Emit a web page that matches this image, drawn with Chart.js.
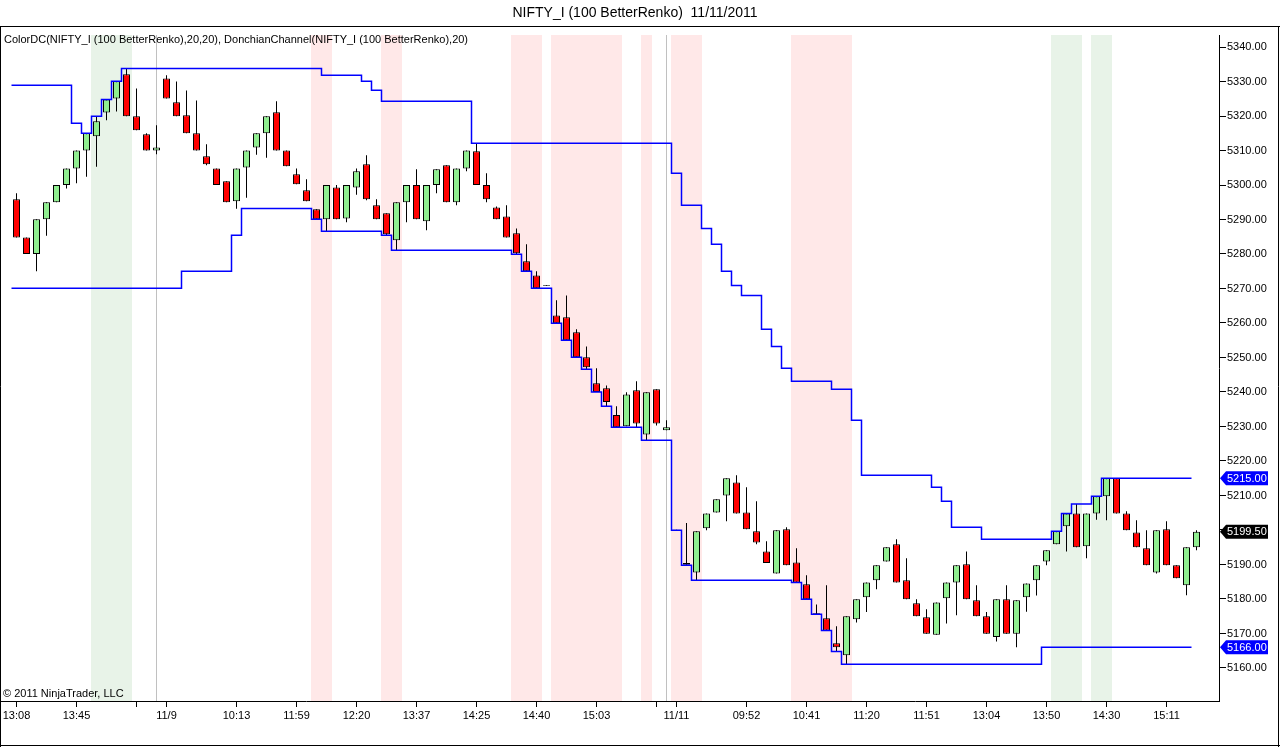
<!DOCTYPE html>
<html>
<head>
<meta charset="utf-8">
<title>NIFTY_I (100 BetterRenko) 11/11/2011</title>
<script src="https://cdn.jsdelivr.net/npm/chart.js@4.4.0/dist/chart.umd.min.js"></script>
<style>
  html, body { margin: 0; padding: 0; background: #fff; }
  canvas { display: block; }
</style>
</head>
<body>
<canvas id="renkoChart" width="1280" height="747"></canvas>
<script>
// renko bars, one per slot
const opens = [
  5295.9, 5284.8, 5280.0, 5290.1, 5295.0, 5300.0, 5304.8, 5310.0, 5314.1, 5321.0,
  5325.1, 5332.1, 5319.9, 5314.7, 5310.0, 5330.9, 5324.0, 5320.2, 5315.0, 5308.3,
  5304.8, 5301.1, 5295.3, 5305.1, 5310.9, 5315.0, 5321.1, 5310.0, 5303.1, 5298.5,
  5293.0, 5290.1, 5299.3, 5290.3, 5299.3, 5306.0, 5294.1, 5291.8, 5284.0, 5295.0,
  5300.0, 5289.5, 5300.0, 5305.7, 5295.0, 5304.8, 5309.8, 5300.0, 5293.5, 5290.9,
  5286.0, 5277.9, 5273.8, 5270.8, 5262.2, 5261.7, 5257.3, 5250.1, 5242.5, 5241.1,
  5233.3, 5230.1, 5240.5, 5227.7, 5240.8, 5228.9, 5199.9, 5190.4, 5187.7, 5200.5,
  5205.1, 5210.0, 5213.8, 5205.1, 5199.6, 5193.8, 5187.4, 5200.2, 5190.6, 5184.3,
  5175.9, 5174.4, 5167.2, 5163.7, 5174.1, 5180.5, 5185.4, 5190.9, 5195.9, 5185.4,
  5178.8, 5174.7, 5169.6, 5180.2, 5184.8, 5190.1, 5179.6, 5175.0, 5169.0, 5179.9,
  5169.9, 5180.5, 5185.4, 5190.9, 5195.9, 5201.1, 5204.8, 5195.3, 5204.8, 5209.8,
  5215.0, 5204.8, 5199.3, 5194.7, 5187.7, 5200.2, 5189.8, 5184.0, 5195.0
];
const highs = [
  5297.6, 5284.8, 5290.1, 5295.0, 5300.0, 5304.8, 5310.0, 5315.0, 5319.8, 5324.8,
  5330.1, 5333.7, 5328.0, 5315.0, 5317.3, 5331.8, 5330.0, 5327.4, 5324.5, 5311.8,
  5304.8, 5301.1, 5304.8, 5310.0, 5315.0, 5319.9, 5324.3, 5310.0, 5304.8, 5301.7,
  5293.0, 5300.0, 5300.0, 5300.0, 5304.8, 5308.6, 5295.9, 5291.8, 5295.0, 5300.0,
  5304.6, 5300.0, 5304.6, 5305.7, 5304.8, 5310.0, 5312.1, 5303.4, 5293.8, 5294.1,
  5287.4, 5282.8, 5275.0, 5271.0, 5266.6, 5268.0, 5258.2, 5253.2, 5246.9, 5241.9,
  5235.9, 5239.9, 5243.1, 5239.9, 5240.8, 5231.8, 5200.1, 5202.0, 5199.6, 5204.8,
  5208.9, 5215.0, 5215.9, 5212.4, 5208.3, 5196.7, 5199.9, 5200.8, 5194.7, 5186.9,
  5178.4, 5184.0, 5172.1, 5175.0, 5179.9, 5184.8, 5189.8, 5195.0, 5197.3, 5191.8,
  5179.9, 5177.0, 5179.0, 5184.8, 5189.8, 5193.8, 5184.0, 5176.2, 5179.9, 5184.0,
  5179.6, 5184.5, 5189.8, 5194.1, 5199.6, 5204.8, 5207.5, 5204.8, 5209.8, 5215.0,
  5215.0, 5205.4, 5202.8, 5199.9, 5199.9, 5202.5, 5189.8, 5195.0, 5199.9
];
const lows = [
  5284.8, 5280.0, 5275.0, 5285.3, 5295.0, 5299.0, 5300.5, 5302.4, 5305.3, 5318.8,
  5321.3, 5319.9, 5315.9, 5310.0, 5308.9, 5325.1, 5319.9, 5315.0, 5310.0, 5305.7,
  5300.0, 5295.0, 5293.1, 5296.3, 5308.8, 5307.9, 5310.0, 5305.4, 5300.2, 5295.3,
  5290.1, 5286.6, 5290.1, 5289.2, 5297.2, 5295.6, 5290.1, 5285.4, 5281.1, 5289.2,
  5290.1, 5286.9, 5297.6, 5295.0, 5294.1, 5304.0, 5300.0, 5295.0, 5290.1, 5284.8,
  5279.9, 5275.0, 5270.1, 5270.8, 5259.9, 5255.0, 5250.1, 5246.6, 5240.0, 5235.9,
  5229.8, 5230.1, 5229.8, 5226.0, 5230.3, 5228.9, 5199.9, 5189.9, 5185.4, 5199.9,
  5205.1, 5202.5, 5204.8, 5200.2, 5195.9, 5190.4, 5187.4, 5189.8, 5184.8, 5179.9,
  5175.6, 5170.9, 5164.8, 5161.1, 5173.2, 5176.2, 5182.8, 5190.9, 5184.8, 5179.9,
  5175.0, 5169.9, 5169.6, 5172.9, 5175.3, 5179.9, 5175.0, 5169.9, 5167.7, 5169.9,
  5166.0, 5176.3, 5181.0, 5189.8, 5195.9, 5193.8, 5195.0, 5191.8, 5203.0, 5202.8,
  5204.8, 5199.9, 5195.0, 5189.8, 5187.4, 5189.8, 5186.0, 5181.1, 5194.1
];
const closes = [
  5284.8, 5280.0, 5290.1, 5295.0, 5300.0, 5304.8, 5310.0, 5315.0, 5318.5, 5324.8,
  5330.1, 5319.9, 5315.9, 5310.0, 5310.9, 5325.1, 5319.9, 5315.0, 5310.0, 5306.0,
  5300.0, 5295.0, 5304.8, 5310.0, 5315.0, 5319.9, 5310.0, 5305.4, 5300.2, 5295.3,
  5290.1, 5300.0, 5290.1, 5300.0, 5304.0, 5295.9, 5290.1, 5285.7, 5295.0, 5300.0,
  5290.1, 5300.0, 5304.6, 5295.0, 5304.8, 5310.0, 5300.0, 5295.9, 5290.1, 5284.8,
  5280.2, 5275.0, 5270.1, 5271.0, 5259.9, 5255.0, 5250.1, 5247.2, 5240.0, 5237.1,
  5229.8, 5239.3, 5230.9, 5239.9, 5230.9, 5229.8, 5200.1, 5189.9, 5199.6, 5204.8,
  5208.9, 5215.0, 5204.8, 5200.2, 5196.4, 5190.4, 5199.9, 5189.8, 5184.8, 5179.9,
  5175.6, 5170.9, 5166.0, 5175.0, 5179.9, 5184.8, 5189.8, 5195.0, 5184.8, 5179.9,
  5175.0, 5169.9, 5179.0, 5184.8, 5189.8, 5179.9, 5175.0, 5169.9, 5179.9, 5169.9,
  5179.6, 5184.5, 5189.8, 5194.1, 5199.6, 5204.8, 5195.0, 5204.8, 5209.8, 5215.0,
  5204.8, 5199.9, 5195.0, 5189.8, 5199.9, 5189.8, 5186.0, 5195.0, 5199.5
];

// DonchianChannel(20) (last bar not plotted)
const upperDC = [
  5328.9, 5328.9, 5328.9, 5328.9, 5328.9, 5328.9, 5317.9, 5315.0, 5319.9, 5324.8,
  5330.1, 5333.8, 5333.8, 5333.8, 5333.8, 5333.8, 5333.8, 5333.8, 5333.8, 5333.8,
  5333.8, 5333.8, 5333.8, 5333.8, 5333.8, 5333.8, 5333.8, 5333.8, 5333.8, 5333.8,
  5333.8, 5331.8, 5331.8, 5331.8, 5331.8, 5330.1, 5327.5, 5324.3, 5324.3, 5324.3,
  5324.3, 5324.3, 5324.3, 5324.3, 5324.3, 5324.3, 5312.1, 5312.1, 5312.1, 5312.1,
  5312.1, 5312.1, 5312.1, 5312.1, 5312.1, 5312.1, 5312.1, 5312.1, 5312.1, 5312.1,
  5312.1, 5312.1, 5312.1, 5312.1, 5312.1, 5312.1, 5303.4, 5294.1, 5294.1, 5287.4,
  5282.8, 5275.0, 5270.9, 5268.0, 5268.0, 5258.2, 5253.2, 5246.9, 5243.1, 5243.1,
  5243.1, 5243.1, 5240.8, 5240.8, 5231.8, 5215.9, 5215.9, 5215.9, 5215.9, 5215.9,
  5215.9, 5215.9, 5212.4, 5208.3, 5200.8, 5200.8, 5200.8, 5197.3, 5197.3, 5197.3,
  5197.3, 5197.3, 5197.3, 5197.3, 5199.6, 5204.8, 5207.5, 5207.5, 5209.8, 5215.0,
  5215.0, 5215.0, 5215.0, 5215.0, 5215.0, 5215.0, 5215.0, 5215.0
];
const lowerDC = [
  5270.1, 5270.1, 5270.1, 5270.1, 5270.1, 5270.1, 5270.1, 5270.1, 5270.1, 5270.1,
  5270.1, 5270.1, 5270.1, 5270.1, 5270.1, 5270.1, 5270.1, 5275.0, 5275.0, 5275.0,
  5275.0, 5275.0, 5285.4, 5293.2, 5293.2, 5293.2, 5293.2, 5293.2, 5293.2, 5293.2,
  5290.1, 5286.6, 5286.6, 5286.6, 5286.6, 5286.6, 5286.6, 5285.4, 5281.1, 5281.1,
  5281.1, 5281.1, 5281.1, 5281.1, 5281.1, 5281.1, 5281.1, 5281.1, 5281.1, 5281.1,
  5279.9, 5275.0, 5270.1, 5270.1, 5259.9, 5255.0, 5250.1, 5246.6, 5240.0, 5235.9,
  5229.8, 5229.8, 5229.8, 5226.0, 5226.0, 5226.0, 5199.9, 5189.8, 5185.4, 5185.4,
  5185.4, 5185.4, 5185.4, 5185.4, 5185.4, 5185.4, 5185.4, 5185.4, 5184.8, 5179.9,
  5175.6, 5170.9, 5164.8, 5161.1, 5161.1, 5161.1, 5161.1, 5161.1, 5161.1, 5161.1,
  5161.1, 5161.1, 5161.1, 5161.1, 5161.1, 5161.1, 5161.1, 5161.1, 5161.1, 5161.1,
  5161.1, 5161.1, 5161.1, 5166.0, 5166.0, 5166.0, 5166.0, 5166.0, 5166.0, 5166.0,
  5166.0, 5166.0, 5166.0, 5166.0, 5166.0, 5166.0, 5166.0, 5166.0
];

// ColorDC background zones (bar slots)
const redZones = [30, 31, 37, 38, 50, 51, 52, 54, 55, 56, 57, 58, 59, 60, 63, 66, 67, 68, 78, 79, 80, 81, 82, 83];
const greenZones = [8, 9, 10, 11, 104, 105, 106, 108, 109];
const dayBreaks = [14, 65];

const xTickIdx = [0, 6, 12, 15, 22, 28, 34, 40, 46, 52, 58, 64, 66, 73, 79, 85, 91, 97, 103, 109, 115];
const xTickLabels = ['13:08', '13:45', '', '11/9', '10:13', '11:59', '12:20', '13:37', '14:25', '14:40', '15:03',
  '', '11/11', '09:52', '10:41', '11:20', '11:51', '13:04', '13:50', '14:30', '15:11'];
const yTicks = [5160, 5170, 5180, 5190, 5200, 5210, 5220, 5230, 5240, 5250,
  5260, 5270, 5280, 5290, 5300, 5310, 5320, 5330, 5340];

const Y_MIN = 5150.43;
const Y_MAX = 5343.48;
const FONT = 'Arial, "Liberation Sans", sans-serif';

const zoneData = redZones.map(i => ({x: i, y: [Y_MIN, Y_MAX]}))
  .concat(greenZones.map(i => ({x: i, y: [Y_MIN, Y_MAX]})));
const zoneColors = redZones.map(() => '#ffe8e8').concat(greenZones.map(() => '#e8f3e8'));

const bars = opens.map((o, i) => i);
const wickData = bars.map(i => ({x: i, y: [lows[i], highs[i]]}));
const bodyData = bars.map(i => ({x: i, y: [opens[i], closes[i]]}));
const bodyColors = bars.map(i => closes[i] >= opens[i] ? '#90ee90' : '#ff0000');

// each channel value covers its own bar slot
const stepPoints = arr => arr.map((v, i) => ({x: i - 0.5, y: v}))
  .concat([{x: arr.length - 0.5, y: arr[arr.length - 1]}]);

function drawTag(ctx, y, color, text) {
  const x = 1220;
  ctx.beginPath();
  ctx.moveTo(x, y);
  ctx.lineTo(x + 6, y - 7);
  ctx.lineTo(1268, y - 7);
  ctx.lineTo(1268, y + 7);
  ctx.lineTo(x + 6, y + 7);
  ctx.closePath();
  ctx.fillStyle = color;
  ctx.fill();
  ctx.fillStyle = '#fff';
  ctx.font = '11px ' + FONT;
  ctx.textAlign = 'left';
  ctx.textBaseline = 'middle';
  ctx.fillText(text, x + 7, y + 0.5);
}

const ninjaFrame = {
  id: 'ninjaFrame',
  beforeDraw(chart) {
    const ctx = chart.ctx;
    ctx.save();
    ctx.fillStyle = '#fff';
    ctx.fillRect(0, 0, chart.width, chart.height);
    ctx.restore();
  },
  afterDatasetDraw(chart, args) {
    if (args.index !== 0) return; // right after the zone bands
    const {ctx, chartArea, scales} = chart;
    ctx.save();
    ctx.strokeStyle = '#c0c0c0';
    ctx.lineWidth = 1;
    dayBreaks.forEach(i => {
      const x = scales.x.getPixelForValue(i);
      ctx.beginPath();
      ctx.moveTo(x, chartArea.top);
      ctx.lineTo(x, chartArea.bottom);
      ctx.stroke();
    });
    ctx.restore();
  },
  afterDraw(chart) {
    const {ctx, chartArea, scales} = chart;
    ctx.save();
    // frame
    ctx.strokeStyle = '#000';
    ctx.lineWidth = 1;
    ctx.beginPath();
    ctx.moveTo(0, 26.5); ctx.lineTo(1280, 26.5);
    ctx.moveTo(0.5, 26.5); ctx.lineTo(0.5, 747);
    ctx.moveTo(0, 745.5); ctx.lineTo(1280, 745.5);
    ctx.moveTo(1278.5, 26.5); ctx.lineTo(1278.5, 747);
    ctx.moveTo(0, chartArea.bottom + 0.5); ctx.lineTo(chartArea.left, chartArea.bottom + 0.5);
    ctx.stroke();

    // title
    ctx.fillStyle = '#000';
    ctx.font = '14px ' + FONT;
    ctx.textAlign = 'center';
    ctx.textBaseline = 'middle';
    ctx.fillText('NIFTY_I (100 BetterRenko)  11/11/2011', 635, 13.5);

    // indicator legend and copyright
    ctx.font = '11px ' + FONT;
    ctx.textAlign = 'left';
    ctx.fillText('ColorDC(NIFTY_I (100 BetterRenko),20,20), DonchianChannel(NIFTY_I (100 BetterRenko),20)', 4, 40);
    ctx.fillText('\u00a9 2011 NinjaTrader, LLC', 3, 694);

    // price markers on the axis
    const y = scales.y;
    const last = closes.length - 1;
    drawTag(ctx, y.getPixelForValue(upperDC[upperDC.length - 1]), '#0000ff', upperDC[upperDC.length - 1].toFixed(2));
    drawTag(ctx, y.getPixelForValue(lowerDC[lowerDC.length - 1]), '#0000ff', lowerDC[lowerDC.length - 1].toFixed(2));
    drawTag(ctx, y.getPixelForValue(closes[last]), '#000000', closes[last].toFixed(2));
    ctx.restore();
  }
};

const ctx = document.getElementById('renkoChart').getContext('2d');

new Chart(ctx, {
  type: 'bar',
  data: {
    datasets: [
      {
        // ColorDC zones
        data: zoneData,
        backgroundColor: zoneColors,
        borderWidth: 0,
        barThickness: 10,
        inflateAmount: 0.5,
        grouped: false,
        order: 10
      },
      {
        // wicks
        data: wickData,
        backgroundColor: '#000',
        borderWidth: 0,
        barThickness: 1,
        inflateAmount: 0,
        grouped: false,
        order: 5
      },
      {
        // bodies
        data: bodyData,
        backgroundColor: bodyColors,
        borderColor: '#000',
        borderWidth: 1,
        borderSkipped: false,
        barThickness: 7,
        inflateAmount: 0,
        grouped: false,
        order: 4
      },
      {
        type: 'line',
        data: stepPoints(upperDC),
        borderColor: '#0000ff',
        borderWidth: 1.5,
        stepped: true,
        pointRadius: 0,
        fill: false,
        order: 1
      },
      {
        type: 'line',
        data: stepPoints(lowerDC),
        borderColor: '#0000ff',
        borderWidth: 1.5,
        stepped: true,
        pointRadius: 0,
        fill: false,
        order: 1
      }
    ]
  },
  options: {
    responsive: false,
    animation: false,
    layout: { padding: { left: 2, top: 35, right: 0, bottom: 0 } },
    plugins: {
      legend: { display: false },
      tooltip: { enabled: false },
      title: { display: false }
    },
    scales: {
      x: {
        type: 'linear',
        min: -1.45,
        max: 120.25,
        offset: false,
        grid: { drawOnChartArea: false, offset: false, color: '#000', tickLength: 6 },
        border: { color: '#000' },
        afterBuildTicks: axis => { axis.ticks = xTickIdx.map(v => ({value: v})); },
        afterFit: axis => { axis.height = 46; },
        ticks: {
          autoSkip: false,
          maxRotation: 0,
          padding: 2,
          color: '#000',
          font: { family: FONT, size: 11 },
          callback: v => xTickLabels[xTickIdx.indexOf(v)] || ''
        }
      },
      y: {
        position: 'right',
        min: Y_MIN,
        max: Y_MAX,
        grid: { drawOnChartArea: false, color: '#000', tickLength: 7 },
        border: { color: '#000' },
        afterBuildTicks: axis => { axis.ticks = yTicks.map(v => ({value: v})); },
        afterFit: axis => { axis.width = 61; },
        ticks: {
          padding: 1,
          color: '#000',
          font: { family: FONT, size: 11 },
          callback: v => v.toFixed(2)
        }
      }
    }
  },
  plugins: [ninjaFrame]
});
</script>
</body>
</html>
